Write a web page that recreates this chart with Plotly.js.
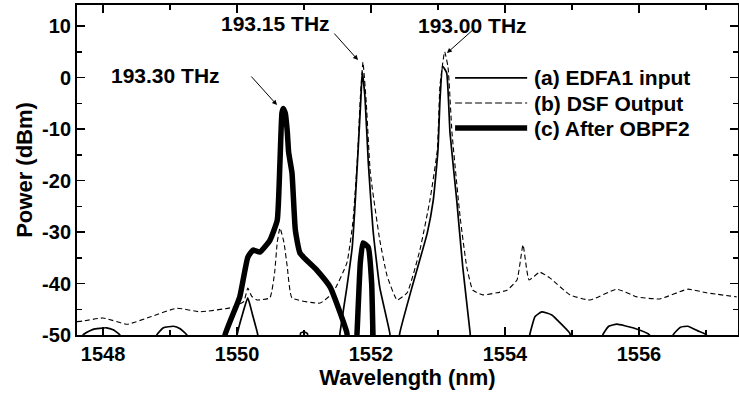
<!DOCTYPE html>
<html><head><meta charset="utf-8">
<script src="https://cdn.plot.ly/plotly-3.0.1.min.js"></script>
<style>html,body{margin:0;padding:0;background:#fff}#chart{width:739px;height:402px}</style>
</head><body><div id="chart"></div>
<script>
// (a) EDFA1 input
const edfaWl = [1547.60,1547.70,1547.85,1548.05,1548.15,1548.25,1548.35,1548.75,1548.80,1548.90,1549.05,1549.15,1549.25,1549.35,
  1549.95,1550.00,1550.08,1550.16,1550.23,1550.31,1550.36,1550.90,1550.95,1551.00,1551.05,1551.10,1551.48,
  1551.537,1551.64,1551.72,1551.76,1551.81,1551.85,1551.87,1551.91,1551.96,1552.03,1552.13,1552.28,1552.33,1552.38,
  1552.43,1552.63,1552.84,1552.93,1553.00,1553.03,1553.07,1553.13,1553.18,1553.28,1553.37,1553.48,1553.53,
  1554.32,1554.37,1554.45,1554.55,1554.70,1554.85,1554.97,1555.02,1555.42,1555.46,1555.55,1555.67,1555.91,1556.16,1556.20,
  1556.47,1556.51,1556.62,1556.73,1556.88,1557.01,1557.05,1557.50];
const edfaPw = [-56,-50,-48.9,-48.6,-49.0,-50,-56,-56,-50,-48.6,-48.3,-48.8,-50,-56,
  -56,-50,-46,-42.8,-46,-50,-56,-56,-49.6,-49.4,-49.7,-56,-56,
  -49.6,-40.7,-32.9,-25.1,-13.5,-3.8,1.1,-3.8,-16.6,-29.6,-40.7,-49.6,-56,-56,
  -49.6,-39.9,-30.2,-23.8,-14.1,-4.4,2.2,0.9,-10.8,-23.8,-36.8,-49.6,-56,
  -56,-50,-46.4,-45.5,-46.1,-48.0,-49.7,-56,-56,-50,-48.3,-47.9,-48.6,-50,-56,
  -56,-50,-48.5,-48.3,-49.2,-50,-56,-56];
// (b) DSF Output
const dsfWl = [1547.61,1547.69,1548.00,1548.36,1548.70,1549.10,1549.45,1549.94,1550.10,1550.16,1550.22,1550.30,1550.49,1550.56,1550.60,1550.64,1550.70,1550.75,1550.82,
  1551.24,1551.43,1551.64,1551.73,1551.80,1551.84,1551.88,1551.93,1551.99,1552.13,1552.24,1552.39,1552.54,1552.73,1552.88,1552.99,1553.03,1553.10,1553.15,1553.21,1553.33,1553.43,1553.52,
  1553.67,1553.88,1554.03,1554.18,1554.27,1554.36,1554.52,1554.67,1554.97,1555.27,1555.67,1555.97,1556.31,1556.73,1557.01,1557.46];
const dsfPw = [-47.4,-47.3,-46.7,-47.9,-46.5,-44.8,-45.5,-44.6,-43.5,-40.9,-42.5,-43.2,-42.8,-38,-32,-29.2,-32,-36.8,-42.8,
  -43.8,-41.8,-36,-28,-15,-4,3.0,-5,-18.5,-31.5,-38.5,-43.2,-41.8,-33.5,-23.8,-14.1,-1.5,5.0,2,-10.8,-27,-36.8,-41.3,
  -42.2,-41.8,-41.3,-39.3,-32.5,-39.3,-37.8,-38.9,-42.2,-43.2,-41.1,-42.6,-43.0,-41.1,-41.8,-42.6];
// (c) After OBPF2
const obpfWl = [1549.78,1549.82,1550.04,1550.16,1550.24,1550.34,1550.49,1550.60,1550.64,1550.67,1550.69,1550.72,1550.75,1550.77,1550.82,1550.87,1550.94,1551.19,1551.39,1551.54,1551.64,1551.68,
  1551.76,1551.79,1551.84,1551.88,1551.96,1552.01,1552.03,1552.06];
const obpfPw = [-56,-50,-42.6,-34.9,-33.5,-33.9,-31.6,-27.7,-16.6,-6.9,-6.0,-6.9,-10.5,-14.5,-18.5,-29.6,-34.1,-37.4,-40.7,-45.7,-49.6,-56,
  -56,-50,-36,-32.1,-33,-40,-50,-56];

const seriesNames = ['(a) EDFA1 input','(b) DSF Output','(c) After OBPF2'];
const peakLabels = ['193.30 THz','193.15 THz','193.00 THz'];
const xTickVals = [1548,1550,1552,1554,1556];
const yTickVals = [10,0,-10,-20,-30,-40,-50];

const F = 'Liberation Sans, Arial, sans-serif';
const traces = [
  {x: edfaWl, y: edfaPw, name: seriesNames[0], mode:'lines', line:{color:'#000', width:1.7, shape:'spline', smoothing:0.4}},
  {x: dsfWl, y: dsfPw, name: seriesNames[1], mode:'lines', line:{color:'#000', width:1.1, dash:'5px,3px', shape:'spline', smoothing:0.4}},
  {x: obpfWl, y: obpfPw, name: seriesNames[2], mode:'lines', line:{color:'#000', width:5.5, shape:'spline', smoothing:0.4}}
];

const legY = [0.779, 0.703, 0.627];
const legStyles = [{width:1.8},{width:1.1,dash:'7px,3px'},{width:5.5}];
const shapes = legY.map((y,i)=>({type:'line', xref:'paper', yref:'paper', x0:0.572, x1:0.681, y0:y, y1:y,
  line: Object.assign({color:'#000'}, legStyles[i])}));
const annotations = legY.map((y,i)=>({xref:'paper', yref:'paper', x:0.688, y:y, xanchor:'left', yanchor:'middle',
  text:'<b>'+seriesNames[i]+'</b>', showarrow:false, font:{family:F, size:21, color:'#000'}}));

// peak labels
annotations.push({x:1548.925, y:0.49, text:'<b>'+peakLabels[0]+'</b>', showarrow:false, font:{family:F,size:21,color:'#000'}});
annotations.push({x:1550.567, y:10.58, text:'<b>'+peakLabels[1]+'</b>', showarrow:false, font:{family:F,size:21,color:'#000'}});
annotations.push({x:1553.522, y:10.19, text:'<b>'+peakLabels[2]+'</b>', showarrow:false, font:{family:F,size:21,color:'#000'}});
// arrows
const arrowCommon = {text:'', showarrow:true, arrowhead:2, arrowsize:1, arrowwidth:1, arrowcolor:'#000', standoff:0, startstandoff:0};
annotations.push(Object.assign({x:1550.597, y:-5.34, ax:-27, ay:-30}, arrowCommon));
annotations.push(Object.assign({x:1551.806, y:3.40, ax:-25, ay:-28}, arrowCommon));
annotations.push(Object.assign({x:1553.134, y:4.76, ax:28, ay:-25}, arrowCommon));

const axisCommon = {showline:true, linecolor:'#000', linewidth:2, mirror:'allticks', ticks:'inside', ticklen:8, tickwidth:1.5, tickcolor:'#000',
  showgrid:false, zeroline:false, tickfont:{family:F, size:20, color:'#000'}};
const layout = {
  width:739, height:402, margin:{l:77, r:1, t:5, b:67}, paper_bgcolor:'#fff', plot_bgcolor:'#fff', showlegend:false,
  xaxis: Object.assign({}, axisCommon, {range:[1547.61,1557.48], tickmode:'array', tickvals:xTickVals, ticktext:xTickVals.map(v=>'<b>'+v+'</b>'),
    minor:{dtick:1, tick0:1548, ticks:'inside', ticklen:5, tickwidth:1.5, tickcolor:'#000'},
    title:{text:'<b>Wavelength (nm)</b>', font:{family:F, size:22, color:'#000'}, standoff:6}}),
  yaxis: Object.assign({}, axisCommon, {range:[-50,14.1], tickmode:'array', tickvals:yTickVals, ticktext:yTickVals.map(v=>'<b>'+v+'</b>'),
    minor:{dtick:5, tick0:0, ticks:'inside', ticklen:5, tickwidth:1.5, tickcolor:'#000'},
    title:{text:'<b>Power (dBm)</b>', font:{family:F, size:22, color:'#000'}, standoff:3}}),
  shapes: shapes, annotations: annotations
};
Plotly.newPlot('chart', traces, layout, {displayModeBar:false, staticPlot:true});
</script></body></html>
